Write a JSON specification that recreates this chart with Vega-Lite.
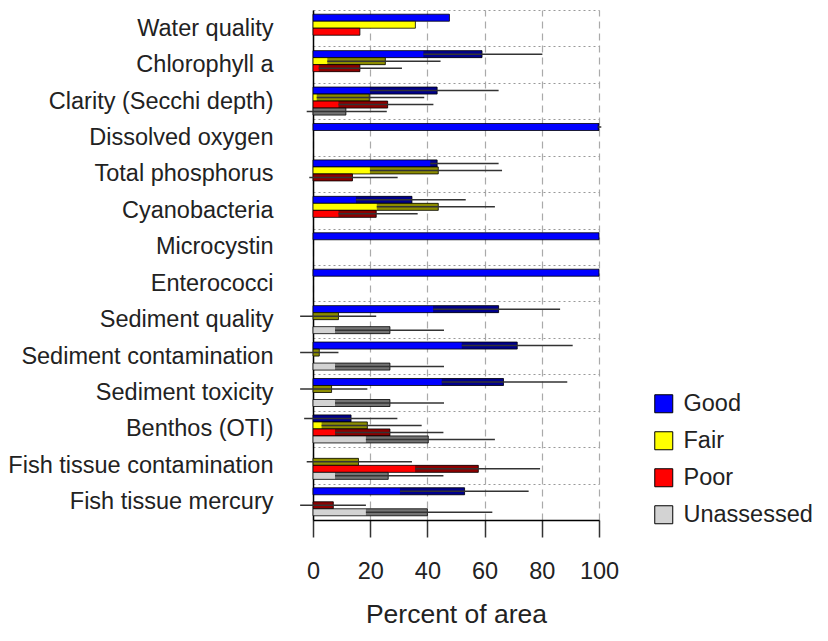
{
  "$schema": "https://vega.github.io/schema/vega-lite/v6.json",
  "autosize": "none",
  "width": 286,
  "height": 510,
  "padding": {"left": 313, "top": 10, "right": 229, "bottom": 121},
  "background": "white",
  "config": {
    "font": "Liberation Sans",
    "view": {"stroke": null}
  },
  "data": {
    "values": [
      {"cat": "Water quality", "cls": "Good", "v": 47.7},
      {"cat": "Water quality", "cls": "Fair", "v": 35.8},
      {"cat": "Water quality", "cls": "Poor", "v": 16.4},
      {"cat": "Chlorophyll a", "cls": "Good", "v": 59.1, "lo": 38.6, "hi": 80.2},
      {"cat": "Chlorophyll a", "cls": "Fair", "v": 25.3, "lo": 5, "hi": 44.6},
      {"cat": "Chlorophyll a", "cls": "Poor", "v": 16.4, "lo": 2, "hi": 31.1},
      {"cat": "Clarity (Secchi depth)", "cls": "Good", "v": 43.4, "lo": 19.9, "hi": 64.9},
      {"cat": "Clarity (Secchi depth)", "cls": "Fair", "v": 19.7, "lo": 1.3, "hi": 38.9},
      {"cat": "Clarity (Secchi depth)", "cls": "Poor", "v": 26.1, "lo": 8.9, "hi": 42.1},
      {"cat": "Clarity (Secchi depth)", "cls": "Unassessed", "v": 11.5, "lo": -2.2, "hi": 25.8},
      {"cat": "Dissolved oxygen", "cls": "Good", "v": 100, "lo": 99.5, "hi": 100.8},
      {"cat": "Total phosphorus", "cls": "Good", "v": 43.4, "lo": 41, "hi": 64.9},
      {"cat": "Total phosphorus", "cls": "Fair", "v": 43.8, "lo": 19.9, "hi": 66.1},
      {"cat": "Total phosphorus", "cls": "Poor", "v": 13.8, "lo": -1.3, "hi": 29.6},
      {"cat": "Cyanobacteria", "cls": "Good", "v": 34.6, "lo": 15, "hi": 53.4},
      {"cat": "Cyanobacteria", "cls": "Fair", "v": 43.8, "lo": 22.3, "hi": 63.6},
      {"cat": "Cyanobacteria", "cls": "Poor", "v": 22.1, "lo": 8.9, "hi": 36.6},
      {"cat": "Microcystin", "cls": "Good", "v": 100},
      {"cat": "Enterococci", "cls": "Good", "v": 100},
      {"cat": "Sediment quality", "cls": "Good", "v": 64.9, "lo": 42, "hi": 86.4},
      {"cat": "Sediment quality", "cls": "Fair", "v": 8.9, "lo": -4.5, "hi": 22.1},
      {"cat": "Sediment quality", "cls": "Unassessed", "v": 26.9, "lo": 7.7, "hi": 45.8},
      {"cat": "Sediment contamination", "cls": "Good", "v": 71.4, "lo": 52, "hi": 90.8},
      {"cat": "Sediment contamination", "cls": "Fair", "v": 2.2, "lo": -4.5, "hi": 8.9},
      {"cat": "Sediment contamination", "cls": "Unassessed", "v": 26.9, "lo": 7.7, "hi": 45.8},
      {"cat": "Sediment toxicity", "cls": "Good", "v": 66.6, "lo": 45, "hi": 88.9},
      {"cat": "Sediment toxicity", "cls": "Fair", "v": 6.5, "lo": -4.5, "hi": 19},
      {"cat": "Sediment toxicity", "cls": "Unassessed", "v": 26.9, "lo": 7.7, "hi": 45.8},
      {"cat": "Benthos (OTI)", "cls": "Good", "v": 13.3, "lo": -3.1, "hi": 29.5},
      {"cat": "Benthos (OTI)", "cls": "Fair", "v": 19, "lo": 3, "hi": 38},
      {"cat": "Benthos (OTI)", "cls": "Poor", "v": 26.9, "lo": 7.7, "hi": 45.6},
      {"cat": "Benthos (OTI)", "cls": "Unassessed", "v": 40.3, "lo": 18.5, "hi": 63.6},
      {"cat": "Fish tissue contamination", "cls": "Fair", "v": 15.9, "lo": -2.2, "hi": 34.6},
      {"cat": "Fish tissue contamination", "cls": "Poor", "v": 57.8, "lo": 35.7, "hi": 79.4},
      {"cat": "Fish tissue contamination", "cls": "Unassessed", "v": 26.3, "lo": 7.7, "hi": 45.6},
      {"cat": "Fish tissue mercury", "cls": "Good", "v": 53, "lo": 30.4, "hi": 75.4},
      {"cat": "Fish tissue mercury", "cls": "Poor", "v": 7.1, "lo": -4.5, "hi": 18.5},
      {"cat": "Fish tissue mercury", "cls": "Unassessed", "v": 40, "lo": 18.5, "hi": 62.7}
    ]
  },
  "encoding": {
    "y": {
      "field": "cat",
      "type": "nominal",
      "scale": {
        "domain": ["Water quality", "Chlorophyll a", "Clarity (Secchi depth)", "Dissolved oxygen", "Total phosphorus", "Cyanobacteria", "Microcystin", "Enterococci", "Sediment quality", "Sediment contamination", "Sediment toxicity", "Benthos (OTI)", "Fish tissue contamination", "Fish tissue mercury"],
        "paddingInner": 0,
        "paddingOuter": 0
      },
      "axis": {
        "title": null,
        "labelFontSize": 23.5,
        "labelColor": "#222222",
        "labelPadding": 40,
        "labelLimit": 320,
        "ticks": false,
        "domain": true,
        "domainColor": "#000000",
        "domainWidth": 1.5,
        "grid": true,
        "tickBand": "extent",
        "gridColor": "#999999",
        "gridDash": [2, 3],
        "gridWidth": 1.2
      }
    },
    "yOffset": {
      "field": "cls",
      "type": "nominal",
      "scale": {"domain": ["Good", "Fair", "Poor", "Unassessed"], "paddingInner": 0, "paddingOuter": 0.6}
    }
  },
  "layer": [
    {
      "mark": {"type": "bar", "stroke": "#000000", "strokeWidth": 0.8},
      "encoding": {
        "x": {
          "field": "v",
          "type": "quantitative",
          "scale": {"domain": [0, 100], "nice": false, "zero": true},
          "axis": {
            "title": "Percent of area",
            "titleFontSize": 26.5,
            "titleFontWeight": "normal",
            "titleColor": "#222222",
            "titlePadding": 19,
            "values": [0, 20, 40, 60, 80, 100],
            "labelFontSize": 23.5,
            "labelColor": "#222222",
            "labelPadding": 22,
            "labelFlush": false,
            "labelOverlap": false,
            "tickSize": 17,
            "tickColor": "#333333",
            "tickWidth": 1.5,
            "domainColor": "#000000",
            "domainWidth": 1.5,
            "grid": true,
            "gridColor": "#aaaaaa",
            "gridDash": [7, 5],
            "gridWidth": 1.2
          }
        },
        "color": {
          "field": "cls",
          "type": "nominal",
          "scale": {"domain": ["Good", "Fair", "Poor", "Unassessed"], "range": ["#0000ff", "#ffff00", "#ff0000", "#d3d3d3"]},
          "legend": {
            "title": null,
            "orient": "none",
            "legendX": 339,
            "legendY": 382,
            "symbolType": "square",
            "symbolSize": 324,
            "symbolStrokeColor": "#000000",
            "symbolStrokeWidth": 1,
            "symbolOpacity": 1,
            "labelFontSize": 23.5,
            "labelColor": "#222222",
            "labelOffset": 8,
            "rowPadding": 12
          }
        }
      }
    },
    {
      "transform": [{"filter": "datum.lo != null"}],
      "mark": {"type": "bar", "color": "#000000", "opacity": 0.45, "clip": true},
      "encoding": {
        "x": {"field": "lo", "type": "quantitative"},
        "x2": {"field": "v"}
      }
    },
    {
      "transform": [{"filter": "datum.lo != null"}],
      "mark": {"type": "rule", "color": "#333333", "strokeWidth": 1.5},
      "encoding": {
        "x": {"field": "lo", "type": "quantitative"},
        "x2": {"field": "hi"}
      }
    }
  ]
}
